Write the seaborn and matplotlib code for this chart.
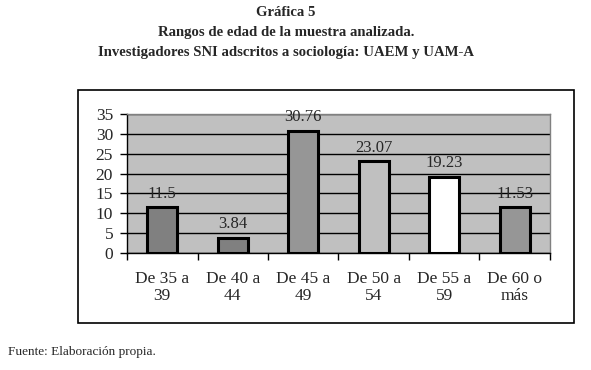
import matplotlib
matplotlib.use("Agg")
import matplotlib.pyplot as plt
import seaborn as sns
import pandas as pd
from matplotlib.patches import Rectangle

# Data
categories = ["De 35 a\n39", "De 40 a\n44", "De 45 a\n49", "De 50 a\n54", "De 55 a\n59", "De 60 o\nmás"]
values = [11.5, 3.84, 30.76, 23.07, 19.23, 11.53]
value_labels = ["11.5", "3.84", "30.76", "23.07", "19.23", "11.53"]
bar_colors = ["#808080", "#808080", "#969696", "#c0c0c0", "#ffffff", "#969696"]

df = pd.DataFrame({"rango": categories, "pct": values})

sns.set_style("white")
plt.rcParams["font.family"] = ["Liberation Serif", "DejaVu Serif"]

fig = plt.figure(figsize=(5.91, 3.70), dpi=100)
ax = fig.add_axes([0.2149, 0.3162, 0.7157, 0.3757])

sns.barplot(data=df, x="rango", y="pct", hue="rango", palette=bar_colors,
            legend=False, width=0.42, edgecolor="black", linewidth=2.2,
            saturation=1, ax=ax, zorder=3)

ax.set_facecolor("#c0c0c0")
ax.set_ylim(0, 35)
ax.set_xlim(-0.5, 5.5)
ax.set_yticks(range(0, 36, 5))
ax.yaxis.grid(True, color="black", linewidth=1)
ax.set_axisbelow(True)
ax.set_xlabel("")
ax.set_ylabel("")

# category boundary ticks on x axis
ax.set_xticks([i + 0.5 for i in range(-1, 6)], minor=True)
ax.tick_params(axis="x", which="minor", length=5, width=1, color="black", direction="out")
ax.tick_params(axis="x", which="major", length=0, labelsize=12.5, pad=13)
ax.tick_params(axis="y", length=5, width=1, color="black", direction="out", labelsize=12.5, pad=5)
ax.tick_params(bottom=True, left=True, which="both")
for lab in ax.get_xticklabels():
    lab.set_linespacing(1.1)

for side in ["left", "bottom"]:
    ax.spines[side].set_color("black")
    ax.spines[side].set_linewidth(1)
for side in ["top", "right"]:
    ax.spines[side].set_color("#808080")
    ax.spines[side].set_linewidth(1)

for i, (v, lab) in enumerate(zip(values, value_labels)):
    ax.annotate(lab, (i, v), xytext=(0, 4), textcoords="offset points",
                ha="center", va="bottom", fontsize=12, zorder=5)

# outer frame around chart
fig.patches.append(Rectangle((0.132, 0.127), 0.839, 0.63, transform=fig.transFigure,
                             fill=False, edgecolor="black", linewidth=1.2))

fig.text(0.484, 0.965, "Gráfica 5", ha="center", va="center", fontsize=10.6, fontweight="bold")
fig.text(0.484, 0.911, "Rangos de edad de la muestra analizada.", ha="center", va="center",
         fontsize=10.6, fontweight="bold")
fig.text(0.484, 0.857, "Investigadores SNI adscritos a sociología: UAEM y UAM-A", ha="center",
         va="center", fontsize=10.6, fontweight="bold")
fig.text(0.014, 0.048, "Fuente: Elaboración propia.", ha="left", va="center", fontsize=9.5)

fig.savefig("out.png", dpi=100)
